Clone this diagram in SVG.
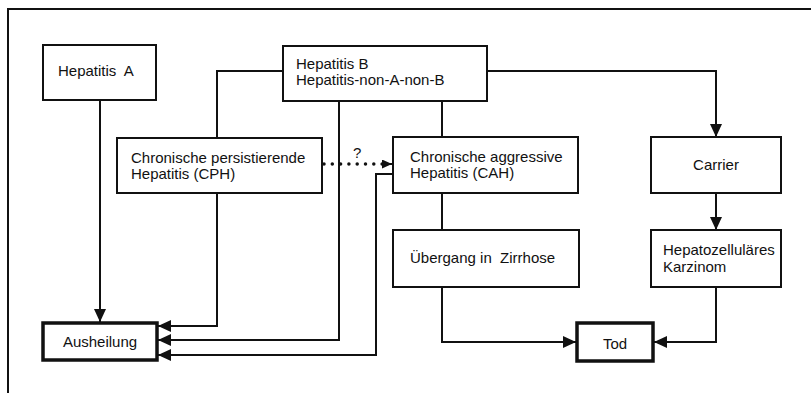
<svg xmlns="http://www.w3.org/2000/svg" width="811" height="393" viewBox="0 0 811 393">
<style>
.box{fill:#fff;stroke:#111;stroke-width:2}
.thick{fill:#fff;stroke:#111;stroke-width:3.5}
.t{font-family:"Liberation Sans",Arial,sans-serif;font-size:15px;fill:#111}
.c{text-anchor:middle}
.ln{fill:none;stroke:#111;stroke-width:2}
.dot{fill:none;stroke:#111;stroke-width:3.5;stroke-linecap:round;stroke-dasharray:0 8.3}
</style>
<defs>
<marker id="ah" markerUnits="userSpaceOnUse" markerWidth="14" markerHeight="13" refX="13" refY="6" orient="auto">
<path d="M0,0 L13,6 L0,12 z" fill="#111"/>
</marker>
<marker id="ahs" markerUnits="userSpaceOnUse" markerWidth="11" markerHeight="10" refX="10" refY="4.5" orient="auto">
<path d="M0,0 L10,4.5 L0,9 z" fill="#111"/>
</marker>
</defs>
<rect width="811" height="393" fill="#fff"/>
<path d="M8,393 V9 H811" fill="none" stroke="#111" stroke-width="2"/>
<g id="connectors">
<path class="ln" d="M100,100 V322" marker-end="url(#ah)"/>
<path class="ln" d="M283,71 H217 V138"/>
<path class="ln" d="M217,193 V326 H158" marker-end="url(#ah)"/>
<path class="ln" d="M339,101 V340 H158" marker-end="url(#ah)"/>
<path class="ln" d="M393,174 H376 V355 H158" marker-end="url(#ah)"/>
<path class="ln" d="M442,101 V137"/>
<path class="ln" d="M442,193 V230"/>
<path class="ln" d="M442,287 V342 H576" marker-end="url(#ah)"/>
<path class="ln" d="M487,71 H716 V137" marker-end="url(#ah)"/>
<path class="ln" d="M716,193 V230" marker-end="url(#ah)"/>
<path class="ln" d="M716,287 V342 H654" marker-end="url(#ah)"/>
<path class="dot" d="M324,164 H384"/>
<path class="ln" d="M383,164 H392" marker-end="url(#ahs)"/>
<text class="t" x="353" y="158">?</text>
</g>
<g id="hepA"><rect class="box" x="43" y="45" width="113" height="55"/><text class="t" x="58" y="76" xml:space="preserve">Hepatitis  A</text></g>
<g id="hepB"><rect class="box" x="283" y="46" width="204" height="55"/><text class="t" x="296" y="69">Hepatitis B</text><text class="t" x="296" y="85">Hepatitis-non-A-non-B</text></g>
<g id="cph"><rect class="box" x="117" y="138" width="205" height="55"/><text class="t" x="131" y="163">Chronische persistierende</text><text class="t" x="131" y="179">Hepatitis (CPH)</text></g>
<g id="cah"><rect class="box" x="393" y="137" width="185" height="56"/><text class="t" x="410" y="162">Chronische aggressive</text><text class="t" x="410" y="178">Hepatitis (CAH)</text></g>
<g id="carrier"><rect class="box" x="651" y="137" width="130" height="56"/><text class="t c" x="716" y="170">Carrier</text></g>
<g id="uebergang"><rect class="box" x="393" y="230" width="186" height="57"/><text class="t" x="410" y="263" xml:space="preserve">Übergang in  Zirrhose</text></g>
<g id="hcc"><rect class="box" x="651" y="230" width="130" height="57"/><text class="t" x="663" y="255">Hepatozelluläres</text><text class="t" x="663" y="272">Karzinom</text></g>
<g id="ausheilung"><rect class="thick" x="43" y="323" width="114" height="37"/><text class="t c" x="100" y="347">Ausheilung</text></g>
<g id="tod"><rect class="thick" x="577" y="323" width="76" height="38"/><text class="t c" x="615" y="349">Tod</text></g>
</svg>
